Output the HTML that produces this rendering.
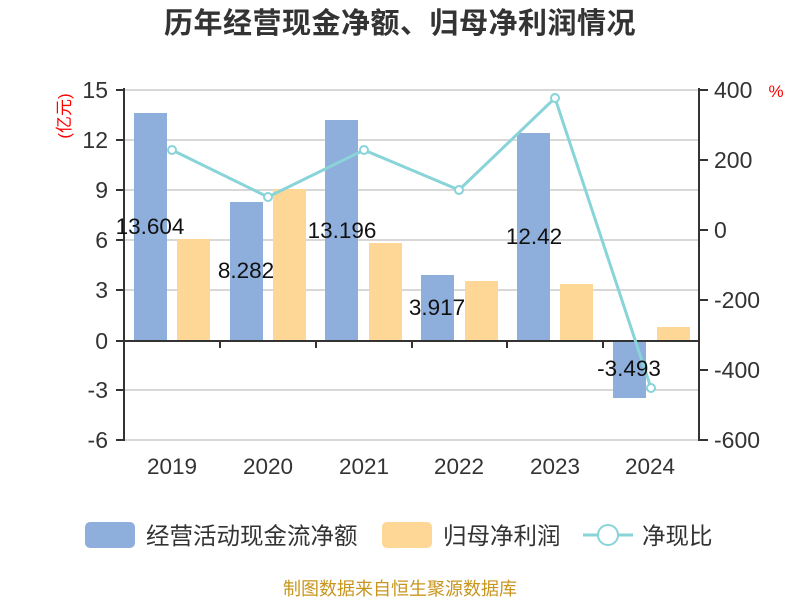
<!DOCTYPE html>
<html><head><meta charset="utf-8"><style>
body{margin:0;background:#fff;}
svg text{font-family:"Liberation Sans","Noto Sans CJK SC",sans-serif;}
</style></head><body>
<svg width="800" height="600" xmlns="http://www.w3.org/2000/svg">
<text x="400" y="33" text-anchor="middle" font-size="29" font-weight="bold" fill="#333" letter-spacing="0.5">历年经营现金净额、归母净利润情况</text>
<g stroke="#ccc" stroke-width="1.5">
<line x1="124" y1="90" x2="699" y2="90"/>
<line x1="124" y1="140" x2="699" y2="140"/>
<line x1="124" y1="190" x2="699" y2="190"/>
<line x1="124" y1="240" x2="699" y2="240"/>
<line x1="124" y1="290" x2="699" y2="290"/>
<line x1="124" y1="390" x2="699" y2="390"/>
<line x1="124" y1="440" x2="699" y2="440"/>
</g>
<g fill="#8eaedb">
<rect x="134" y="113" width="33" height="228"/>
<rect x="230" y="202" width="33" height="139"/>
<rect x="325" y="120" width="33" height="221"/>
<rect x="421" y="275" width="33" height="66"/>
<rect x="517" y="133" width="33" height="208"/>
<rect x="613" y="341" width="33" height="57"/>
</g>
<g fill="#fed797">
<rect x="177" y="239" width="33" height="102"/>
<rect x="273" y="189" width="33" height="152"/>
<rect x="369" y="243" width="33" height="98"/>
<rect x="465" y="281" width="33" height="60"/>
<rect x="560" y="284" width="33" height="57"/>
<rect x="657" y="327" width="33" height="14"/>
</g>
<g stroke="#333" stroke-width="2" fill="none">
<line x1="124" y1="88" x2="124" y2="441"/>
<line x1="699" y1="88" x2="699" y2="441"/>
<line x1="124" y1="341" x2="699" y2="341"/>
<line x1="116" y1="90" x2="124" y2="90"/><line x1="116" y1="140" x2="124" y2="140"/><line x1="116" y1="190" x2="124" y2="190"/><line x1="116" y1="240" x2="124" y2="240"/><line x1="116" y1="290" x2="124" y2="290"/><line x1="116" y1="341" x2="124" y2="341"/><line x1="116" y1="390" x2="124" y2="390"/><line x1="116" y1="440" x2="124" y2="440"/>
<line x1="699" y1="90" x2="708" y2="90"/><line x1="699" y1="160" x2="708" y2="160"/><line x1="699" y1="230" x2="708" y2="230"/><line x1="699" y1="300" x2="708" y2="300"/><line x1="699" y1="370" x2="708" y2="370"/><line x1="699" y1="440" x2="708" y2="440"/>
<line x1="220" y1="341" x2="220" y2="348"/><line x1="316" y1="341" x2="316" y2="348"/><line x1="412" y1="341" x2="412" y2="348"/><line x1="507" y1="341" x2="507" y2="348"/><line x1="603" y1="341" x2="603" y2="348"/>
</g>
<g font-size="23" fill="#333" text-anchor="end">
<text x="108" y="98">15</text><text x="108" y="148">12</text><text x="108" y="198">9</text><text x="108" y="248">6</text><text x="108" y="298">3</text><text x="108" y="349">0</text><text x="108" y="398">-3</text><text x="108" y="448">-6</text>
</g>
<g font-size="23" fill="#333">
<text x="714" y="98">400</text><text x="714" y="168">200</text><text x="714" y="238">0</text><text x="714" y="308">-200</text><text x="714" y="378">-400</text><text x="714" y="448">-600</text>
</g>
<text x="70" y="116" font-size="17" fill="red" text-anchor="middle" transform="rotate(-90 70 116)">(亿元)</text>
<text x="776" y="97" font-size="17" fill="red" text-anchor="middle">%</text>
<g font-size="22.5" fill="#333" text-anchor="middle">
<text x="172" y="474">2019</text><text x="268" y="474">2020</text><text x="364" y="474">2021</text><text x="459" y="474">2022</text><text x="555" y="474">2023</text><text x="650" y="474">2024</text>
</g>
<polyline points="172,150 268,197 364,150 459,190 555,98 651,388" fill="none" stroke="#88d4d8" stroke-width="3"/>
<g fill="#fff" stroke="#88d4d8" stroke-width="2">
<circle cx="172" cy="150" r="4"/><circle cx="268" cy="197" r="4"/><circle cx="364" cy="150" r="4"/><circle cx="459" cy="190" r="4"/><circle cx="555" cy="98" r="4"/><circle cx="651" cy="388" r="4"/>
</g>
<g font-size="22.5" fill="#111" text-anchor="middle">
<text x="150" y="234">13.604</text><text x="246" y="278">8.282</text><text x="342" y="238">13.196</text><text x="437" y="315">3.917</text><text x="534" y="244">12.42</text><text x="629" y="376">-3.493</text>
</g>
<rect x="85" y="522" width="50" height="26" rx="5" fill="#8eaedb"/>
<text x="146" y="544" font-size="23.5" fill="#333">经营活动现金流净额</text>
<rect x="382" y="522" width="50" height="26" rx="5" fill="#fed797"/>
<text x="443" y="544" font-size="23.5" fill="#333">归母净利润</text>
<line x1="583" y1="535" x2="633" y2="535" stroke="#88d4d8" stroke-width="3"/>
<circle cx="608" cy="535" r="10" fill="#fff" stroke="#88d4d8" stroke-width="2"/>
<text x="642" y="544" font-size="23.5" fill="#333">净现比</text>
<text x="400" y="595" font-size="18" fill="#c8961e" text-anchor="middle">制图数据来自恒生聚源数据库</text>
</svg>
</body></html>
